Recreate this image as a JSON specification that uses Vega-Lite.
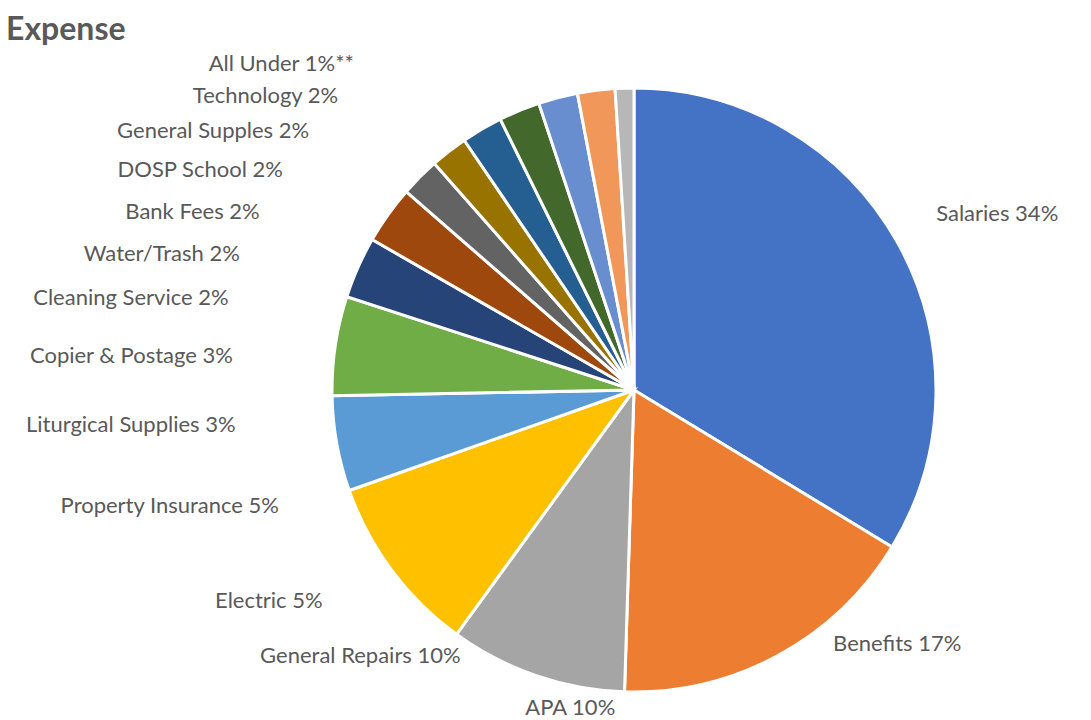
{
  "$schema": "https://vega.github.io/schema/vega-lite/v6.json",
  "width": 600,
  "height": 604,
  "autosize": {"type": "none"},
  "padding": {"left": 334, "top": 88, "right": 157, "bottom": 28},
  "background": "#ffffff",
  "config": {"view": {"stroke": null}},
  "title": {"text": "Expense", "anchor": "start", "frame": "group", "font": "Lato", "fontSize": 32, "fontWeight": "bold", "color": "#595959", "dx": -328, "dy": -2},
  "data": {
    "values": [
      {"Category": "Salaries", "Value": 33.7, "Label": "Salaries 34%"},
      {"Category": "Benefits", "Value": 16.8, "Label": "Benefits 17%"},
      {"Category": "APA", "Value": 9.5, "Label": "APA 10%"},
      {"Category": "General Repairs", "Value": 9.6, "Label": "General Repairs 10%"},
      {"Category": "Electric", "Value": 5.1, "Label": "Electric 5%"},
      {"Category": "Property Insurance", "Value": 5.3, "Label": "Property Insurance 5%"},
      {"Category": "Liturgical Supplies", "Value": 3.3, "Label": "Liturgical Supplies 3%"},
      {"Category": "Copier & Postage", "Value": 3.1, "Label": "Copier & Postage 3%"},
      {"Category": "Cleaning Service", "Value": 2.1, "Label": "Cleaning Service 2%"},
      {"Category": "Water/Trash", "Value": 2.0, "Label": "Water/Trash 2%"},
      {"Category": "Bank Fees", "Value": 2.2, "Label": "Bank Fees 2%"},
      {"Category": "DOSP School", "Value": 2.2, "Label": "DOSP School 2%"},
      {"Category": "General Supples", "Value": 2.1, "Label": "General Supples 2%"},
      {"Category": "Technology", "Value": 2.0, "Label": "Technology 2%"},
      {"Category": "All Under 1%", "Value": 1.0, "Label": "All Under 1%**"}
    ]
  },
  "transform": [{"window": [{"op": "row_number", "as": "Rank"}]}],
  "layer": [
    {
      "mark": {"type": "arc", "radius": 302, "stroke": "#ffffff", "strokeWidth": 3},
      "encoding": {
        "theta": {"field": "Value", "type": "quantitative", "stack": true},
        "order": {"field": "Rank", "type": "quantitative"},
        "color": {
          "field": "Category",
          "type": "nominal",
          "legend": null,
          "scale": {
            "domain": ["Salaries", "Benefits", "APA", "General Repairs", "Electric", "Property Insurance", "Liturgical Supplies", "Copier & Postage", "Cleaning Service", "Water/Trash", "Bank Fees", "DOSP School", "General Supples", "Technology", "All Under 1%"],
            "range": ["#4472C4", "#ED7D31", "#A5A5A5", "#FFC000", "#5B9BD5", "#70AD47", "#264478", "#9E480E", "#636363", "#997300", "#255E91", "#43682B", "#698ED0", "#F1975A", "#B7B7B7"]
          }
        }
      }
    },
    {
      "mark": {"type": "text", "align": "left", "baseline": "middle", "font": "Lato", "fontSize": 22, "color": "#595959"},
      "encoding": {
        "theta": {"field": "Value", "type": "quantitative", "stack": true, "scale": {"type": "pow", "exponent": 0.943, "domain": [0, 100], "range": [0, 5.6]}},
        "radius": {"field": "Value", "type": "quantitative", "scale": {"type": "linear", "domain": [1, 10, 34], "range": [430, 312, 350], "clamp": true, "zero": false}},
        "order": {"field": "Rank", "type": "quantitative"},
        "detail": {"field": "Category", "type": "nominal"},
        "text": {"condition": {"test": "datum.Category === 'Salaries' || datum.Category === 'Benefits'", "field": "Label"}, "value": ""}
      }
    },
    {
      "mark": {"type": "text", "align": "right", "baseline": "middle", "font": "Lato", "fontSize": 22, "color": "#595959"},
      "encoding": {
        "theta": {"field": "Value", "type": "quantitative", "stack": true, "scale": {"type": "pow", "exponent": 0.943, "domain": [0, 100], "range": [0, 5.6]}},
        "radius": {"field": "Value", "type": "quantitative", "scale": {"type": "linear", "domain": [1, 10, 34], "range": [430, 312, 350], "clamp": true, "zero": false}},
        "order": {"field": "Rank", "type": "quantitative"},
        "detail": {"field": "Category", "type": "nominal"},
        "text": {"condition": {"test": "datum.Category !== 'Salaries' && datum.Category !== 'Benefits'", "field": "Label"}, "value": ""}
      }
    }
  ],
  "resolve": {"scale": {"theta": "independent", "radius": "independent"}}
}
